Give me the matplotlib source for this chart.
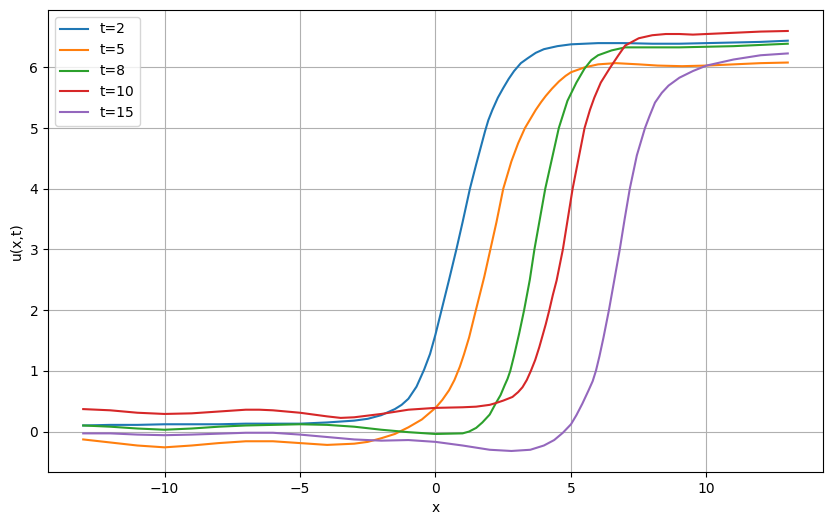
import matplotlib.pyplot as plt
import numpy as np

labels = ['t=2', 't=5', 't=8', 't=10', 't=15']

x_t2 = [-13, -12, -11, -10, -9, -8, -7, -6, -5, -4, -3, -2.5, -2, -1.5, -1.25, -1,
        -0.7, -0.42, -0.2, 0, 0.2, 0.5, 0.77, 1.0, 1.27, 1.5, 1.83, 1.95, 2.1,
        2.3, 2.5, 2.7, 2.9, 3.15, 3.4, 3.7, 4, 4.5, 5, 6, 7, 8, 9, 10, 11, 12, 13]
u_t2 = [0.10, 0.11, 0.11, 0.12, 0.12, 0.12, 0.13, 0.13, 0.13, 0.15, 0.18, 0.21,
        0.27, 0.37, 0.44, 0.54, 0.74, 1.02, 1.28, 1.6, 1.96, 2.5, 3.0, 3.45, 4.0,
        4.4, 4.95, 5.13, 5.3, 5.5, 5.66, 5.81, 5.94, 6.07, 6.15, 6.24, 6.3, 6.35,
        6.38, 6.4, 6.4, 6.39, 6.39, 6.4, 6.41, 6.42, 6.44]

x_t5 = [-13, -12, -11, -10, -9, -8, -7, -6, -5, -4, -3, -2.5, -2, -1.5, -1, -0.5,
        0, 0.25, 0.5, 0.7, 0.9, 1.05, 1.24, 1.49, 1.8, 2.0, 2.25, 2.5, 2.8, 3.05,
        3.3, 3.5, 3.7, 3.9, 4.07, 4.3, 4.56, 4.8, 5, 5.5, 6, 6.65, 7.5, 8.2, 9.1,
        10, 11, 12, 13]
u_t5 = [-0.13, -0.18, -0.23, -0.26, -0.23, -0.19, -0.16, -0.16, -0.19, -0.22,
        -0.2, -0.17, -0.11, -0.04, 0.07, 0.2, 0.39, 0.52, 0.68, 0.85, 1.07, 1.27,
        1.55, 2.0, 2.55, 2.95, 3.45, 4.0, 4.45, 4.75, 5.0, 5.15, 5.3, 5.43, 5.53,
        5.65, 5.77, 5.86, 5.92, 6.0, 6.05, 6.07, 6.05, 6.03, 6.02, 6.03, 6.05,
        6.07, 6.08]

x_t8 = [-13, -12, -11, -10, -9, -8, -7, -6, -5, -4, -3, -2, -1, 0, 1, 1.24, 1.5,
        1.73, 2.0, 2.23, 2.4, 2.55, 2.66, 2.76, 2.9, 3.09, 3.27, 3.48, 3.65, 3.85,
        4.05, 4.3, 4.55, 4.87, 5.2, 5.5, 5.75, 6.0, 6.5, 7, 8, 9, 10, 11, 12, 13]
u_t8 = [0.10, 0.08, 0.05, 0.03, 0.05, 0.08, 0.10, 0.11, 0.12, 0.11, 0.08, 0.03,
        -0.01, -0.04, -0.03, 0.0, 0.06, 0.15, 0.28, 0.47, 0.6, 0.76, 0.87, 1.0,
        1.25, 1.62, 2.0, 2.5, 3.0, 3.5, 4.0, 4.5, 5.0, 5.45, 5.75, 5.98, 6.12,
        6.2, 6.28, 6.33, 6.33, 6.33, 6.34, 6.35, 6.37, 6.39]

x_t10 = [-13, -12, -11, -10, -9, -8, -7, -6.5, -6, -5, -4, -3.5, -3, -2, -1, 0,
         1, 1.5, 2.0, 2.23, 2.5, 2.84, 3.05, 3.21, 3.37, 3.52, 3.68, 3.83, 3.95,
         4.07, 4.2, 4.33, 4.47, 4.7, 4.88, 5.06, 5.28, 5.5, 5.7, 5.86, 6.1, 6.45,
         6.75, 7.0, 7.5, 8, 8.5, 9, 9.5, 10, 11, 12, 13]
u_t10 = [0.37, 0.35, 0.31, 0.29, 0.30, 0.33, 0.36, 0.36, 0.35, 0.31, 0.25, 0.225,
         0.235, 0.29, 0.36, 0.39, 0.40, 0.41, 0.44, 0.47, 0.51, 0.57, 0.65, 0.73,
         0.85, 1.0, 1.18, 1.39, 1.58, 1.77, 2.0, 2.25, 2.49, 3.0, 3.5, 4.0, 4.5,
         5.0, 5.3, 5.5, 5.75, 6.0, 6.2, 6.36, 6.48, 6.53, 6.55, 6.55, 6.54, 6.55,
         6.57, 6.59, 6.6]

x_t15 = [-13, -12, -11, -10, -9, -8, -7, -6, -5, -4, -3, -2, -1, 0, 0.5, 1, 2,
         2.8, 3.5, 4, 4.38, 4.7, 5.0, 5.2, 5.42, 5.65, 5.8, 5.92, 6.05, 6.2, 6.4,
         6.6, 6.8, 6.98, 7.17, 7.43, 7.73, 7.9, 8.1, 8.35, 8.6, 9.0, 9.5, 10, 11,
         12, 13]
u_t15 = [-0.03, -0.03, -0.05, -0.06, -0.05, -0.035, -0.02, -0.02, -0.05, -0.09,
         -0.13, -0.15, -0.14, -0.17, -0.2, -0.23, -0.3, -0.32, -0.3, -0.23, -0.14,
         -0.02, 0.12, 0.27, 0.46, 0.68, 0.83, 1.0, 1.24, 1.55, 2.0, 2.5, 3.0, 3.5,
         4.0, 4.55, 5.0, 5.2, 5.42, 5.58, 5.7, 5.83, 5.94, 6.03, 6.13, 6.2, 6.23]

xs = [x_t2, x_t5, x_t8, x_t10, x_t15]
us = [u_t2, u_t5, u_t8, u_t10, u_t15]

fig = plt.figure(figsize=(8.33, 5.25), dpi=100)
ax = fig.add_axes([0.0576, 0.101, 0.9304, 0.880])
for x, u, lab in zip(xs, us, labels):
    ax.plot(np.array(x), np.array(u), label=lab)
ax.set_xlabel('x')
ax.set_ylabel('u(x,t)')
ax.legend(loc='upper left')
ax.grid(True)
fig.savefig('out.png', dpi=100)
